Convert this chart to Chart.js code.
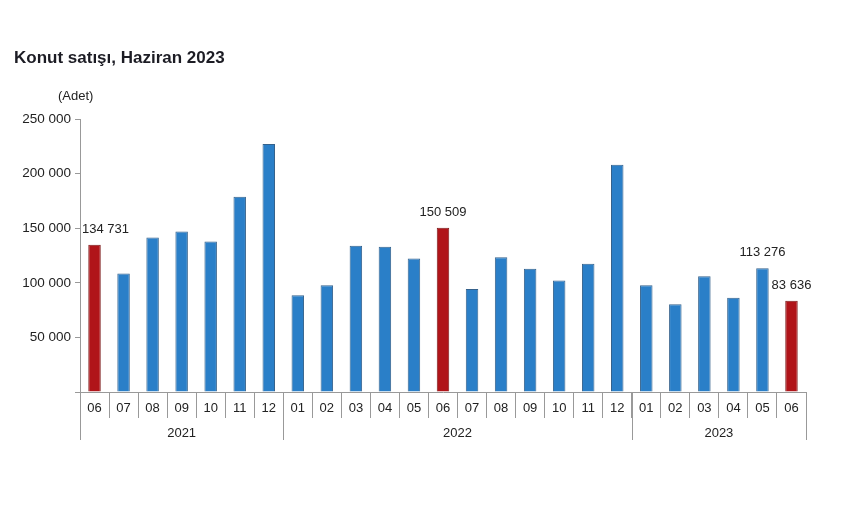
<!DOCTYPE html>
<html>
<head>
<meta charset="utf-8">
<script src="https://cdn.jsdelivr.net/npm/chart.js@4.4.0/dist/chart.umd.min.js"></script>
<style>
  body { margin: 0; background: #fff; }
  #wrap { position: relative; width: 860px; height: 505px; font-family: "Liberation Sans", Arial, sans-serif; color: #222; }
  #title { position: absolute; left: 14px; top: 48px; font-size: 17px; font-weight: bold; color: #1c1c24; }
  #unit { position: absolute; left: 58px; top: 88px; font-size: 13px; }
  canvas { position: absolute; left: 0; top: 0; }
</style>
</head>
<body>
<div id="wrap">
  <canvas id="chart" width="860" height="505"></canvas>
  <div id="title">Konut satışı, Haziran 2023</div>
  <div id="unit">(Adet)</div>
</div>
<script>
// months, one per bar
const months = ['06', '07', '08', '09', '10', '11', '12',
  '01', '02', '03', '04', '05', '06', '07', '08', '09', '10', '11', '12',
  '01', '02', '03', '04', '05', '06'];
const years = ['2021', '2022', '2023'];
const yearSpans = [7, 12, 6];

// house sales, units
const sales = [134731, 108500, 141400, 146900, 137800, 178700, 227000,
  88600, 97700, 134000, 133000, 122200, 150509, 94400, 123300, 112900, 102200, 117500, 208000,
  97700, 80400, 106000, 86200, 113276, 83636];

// bars that carry a value label
const labelled = [0, 12, 23, 24];

const BLUE = '#2a7fc8';
const RED = '#b01419';
const fmt = v => String(v).replace(/\B(?=(\d{3})+(?!\d))/g, ' ');

const labelsPlugin = {
  id: 'extras',
  afterDraw(chart) {
    const ctx = chart.ctx;
    const area = chart.chartArea;
    const xs = chart.scales.x;
    const meta = chart.getDatasetMeta(0);
    ctx.save();
    ctx.font = '13px "Liberation Sans", Arial, sans-serif';
    ctx.fillStyle = '#222';

    // value labels
    ctx.textAlign = 'center';
    ctx.textBaseline = 'bottom';
    labelled.forEach(i => {
      const bar = meta.data[i];
      const txt = fmt(sales[i]);
      const w = ctx.measureText(txt).width;
      const x = Math.max(bar.x, area.left + w / 2 + 2);
      ctx.fillText(txt, x, bar.y - 9);
    });

    // month labels
    ctx.textBaseline = 'middle';
    months.forEach((m, i) => {
      ctx.fillText(m, xs.getPixelForValue(i), area.bottom + 16);
    });

    // year labels and separators
    const half = (xs.getPixelForValue(1) - xs.getPixelForValue(0)) / 2;
    ctx.strokeStyle = '#999';
    ctx.lineWidth = 1;
    let start = 0;
    const drawSep = x => {
      ctx.beginPath();
      ctx.moveTo(Math.round(x) + 0.5, area.bottom);
      ctx.lineTo(Math.round(x) + 0.5, area.bottom + 48);
      ctx.stroke();
    };
    years.forEach((y, k) => {
      const x0 = xs.getPixelForValue(start) - half;
      const x1 = xs.getPixelForValue(start + yearSpans[k] - 1) + half;
      drawSep(x0);
      ctx.fillText(y, (x0 + x1) / 2, area.bottom + 41);
      start += yearSpans[k];
      if (k === years.length - 1) drawSep(x1);
    });
    ctx.restore();
  }
};

new Chart(document.getElementById('chart'), {
  type: 'bar',
  data: {
    labels: months,
    datasets: [{
      data: sales,
      backgroundColor: months.map(m => m === '06' ? RED : BLUE),
      borderColor: months.map(m => m === '06' ? '#7d1a1a' : '#35628c'),
      borderWidth: 1,
      barPercentage: 0.43,
      categoryPercentage: 1
    }]
  },
  options: {
    responsive: false,
    animation: false,
    layout: { padding: { top: 119, right: 54, bottom: 0, left: 0 } },
    plugins: { legend: { display: false }, tooltip: { enabled: false } },
    scales: {
      x: {
        afterFit: s => { s.height = 113; },
        ticks: { display: false },
        grid: { offset: true, drawOnChartArea: false, tickLength: 26, color: '#999' },
        border: { color: '#999' }
      },
      y: {
        min: 0,
        max: 250000,
        afterFit: s => { s.width = 80; },
        ticks: {
          stepSize: 50000,
          padding: 4,
          color: '#222',
          font: { family: '"Liberation Sans", Arial, sans-serif', size: 13.5 },
          callback: v => v === 0 ? '' : fmt(v)
        },
        grid: { drawOnChartArea: false, tickLength: 5, color: '#999' },
        border: { color: '#999' }
      }
    }
  },
  plugins: [labelsPlugin]
});
</script>
</body>
</html>
